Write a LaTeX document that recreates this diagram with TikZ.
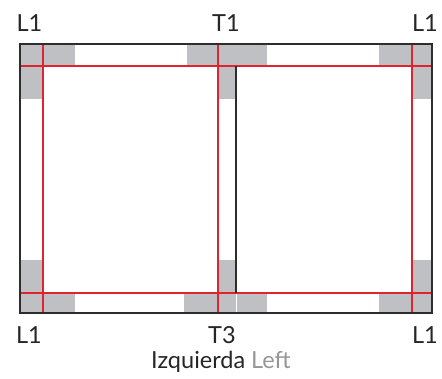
\documentclass[tikz,border=0pt]{standalone}
\usepackage{fontspec}
\setmainfont{Lato}

\definecolor{panelgray}{RGB}{190,192,196}
\definecolor{cutred}{RGB}{222,36,46}
\definecolor{framegray}{RGB}{45,45,45}
\definecolor{leftgray}{RGB}{150,150,150}

\begin{document}
\begin{tikzpicture}[x=1pt, y=-1pt,
        patch/.style={fill=panelgray},
        cut/.style={cutred, line width=1.5pt},
        frame/.style={framegray, line width=1.8pt},
        lbl/.style={font=\fontsize{23.5}{26}\selectfont, text=black!85, inner sep=0pt, anchor=base}]
        \useasboundingbox (0,0) rectangle (442,378);

        \fill[patch] (20,44) rectangle (75,66);
        \fill[patch] (20,66) rectangle (43,99);
        \fill[patch] (187,44) rectangle (267,66);
        \fill[patch] (218,66) rectangle (236,99);
        \fill[patch] (379,44) rectangle (432,66);
        \fill[patch] (412,66) rectangle (432,99);

        \fill[patch] (20,260) rectangle (43,293);
        \fill[patch] (20,293) rectangle (75,313);
        \fill[patch] (218,260) rectangle (236,293);
        \fill[patch] (184,293) rectangle (235.5,313);
        \fill[patch] (236.5,293) rectangle (267,313);
        \fill[patch] (412,260) rectangle (432,293);
        \fill[patch] (379,293) rectangle (432,313);

        \draw[cut] (20,66) -- (432,66);
        \draw[cut] (20,293) -- (432,293);
        \draw[cut] (43,44) -- (43,313);
        \draw[cut] (218,44) -- (218,313);
        \draw[cut] (412,44) -- (412,313);

        \draw[frame] (20,44) rectangle (432,313);
        \draw[frame] (236,66) -- (236,293);

        \node[lbl] (topleft) at (29.5,31) {L1};
        \node[lbl] (topmid) at (226,31) {T1};
        \node[lbl] (topright) at (425,31) {L1};
        \node[lbl] (botleft) at (29,343) {L1};
        \node[lbl] (botmid) at (222,343) {T3};
        \node[lbl] (botright) at (425,343) {L1};
        \node[lbl] (caption) at (221,368) {Izquierda \textcolor{leftgray}{Left}};
    \end{tikzpicture}
\end{document}
